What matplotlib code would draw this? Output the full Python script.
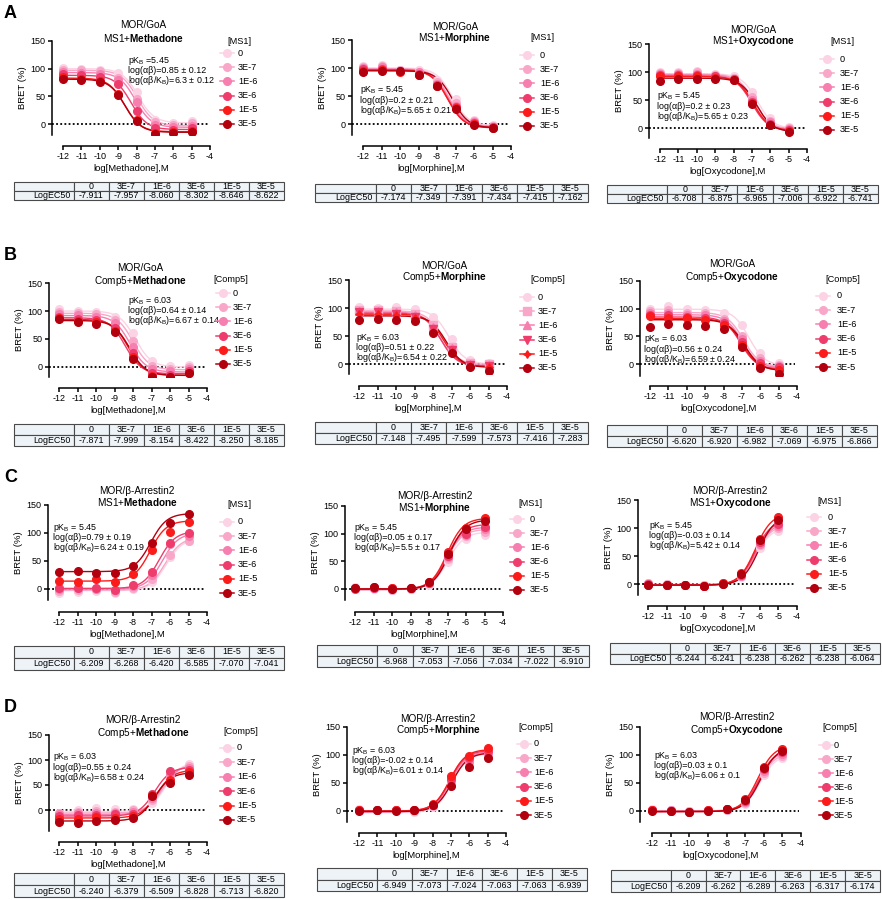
import numpy as np
import matplotlib
matplotlib.use("Agg")
import matplotlib.pyplot as plt
from matplotlib.lines import Line2D
from matplotlib.patches import Rectangle

plt.rcParams['font.family'] = ['Liberation Sans', 'DejaVu Sans']
plt.rcParams['mathtext.fontset'] = 'custom'
plt.rcParams['mathtext.rm'] = 'Liberation Sans'
plt.rcParams['mathtext.bf'] = 'Liberation Sans:bold'
plt.rcParams['mathtext.it'] = 'Liberation Sans:italic'
plt.rcParams['axes.unicode_minus'] = False

# ---------------- data ----------------
log_conc = [-12, -11, -10, -9, -8, -7, -6, -5]
x_ticks = [-12, -11, -10, -9, -8, -7, -6, -5, -4]
y_ticks = [0, 50, 100, 150]
mod_conc = ['0', '3E-7', '1E-6', '3E-6', '1E-5', '3E-5']
series_colors = ['#fcd3e4', '#f9a7c8', '#f67fb0', '#ee3d6c', '#fc1b1b', '#b3000f']

# Row A: MOR/GoA, MS1
A1_points = [[102, 100, 98, 92, 58, 8, 2, 6],
             [98, 97, 95, 84, 45, 3, -2, 2],
             [94, 92, 90, 80, 40, -2, -5, -3],
             [90, 88, 85, 72, 24, -8, -10, -8],
             [85, 82, 78, 55, 8, -16, -14, -12],
             [82, 80, 76, 52, 5, -18, -16, -14]]
A1_top = [100, 97, 93, 88, 83, 81]
A1_bottom = [2, -3, -6, -10, -14, -15]
A1_logec50 = [-7.911, -7.957, -8.060, -8.302, -8.646, -8.622]

A2_points = [[104, 106, 97, 96, 78, 44, 8, -1],
             [102, 104, 96, 93, 75, 38, 5, -3],
             [100, 102, 95, 92, 72, 33, 3, -5],
             [98, 99, 94, 90, 70, 30, 1, -6],
             [95, 96, 93, 88, 68, 28, 0, -8],
             [92, 95, 94, 87, 67, 27, -1, -8]]
A2_top = [100, 99, 98, 97, 96, 95]
A2_bottom = [-3, -4, -5, -6, -7, -7]
A2_logec50 = [-7.174, -7.349, -7.391, -7.434, -7.415, -7.162]

A3_points = [[100, 100, 102, 97, 92, 64, 18, 2],
             [98, 98, 100, 95, 90, 55, 12, 0],
             [96, 96, 97, 93, 88, 50, 10, -2],
             [95, 94, 95, 92, 87, 47, 8, -3],
             [92, 92, 92, 90, 86, 44, 6, -5],
             [84, 88, 87, 88, 85, 42, 5, -8]]
A3_top = [97, 96, 95, 93, 92, 89]
A3_bottom = [-1, -2, -3, -4, -5, -7]
A3_logec50 = [-6.708, -6.875, -6.965, -7.006, -6.922, -6.741]

# Row B: MOR/GoA, Comp5
B1_points = [[104, 100, 98, 90, 60, 10, 2, 4],
             [98, 96, 94, 84, 46, 2, -4, 0],
             [94, 92, 90, 78, 36, -3, -8, -4],
             [90, 86, 84, 70, 25, -10, -14, -8],
             [88, 82, 80, 65, 18, -16, -18, -10],
             [86, 80, 76, 62, 14, -18, -18, -10]]
B1_top = [100, 96, 92, 88, 85, 83]
B1_bottom = [0, -5, -9, -12, -15, -15]
B1_logec50 = [-7.871, -7.999, -8.154, -8.422, -8.250, -8.185]

B2_points = [[101, 100, 101, 98, 84, 45, 8, 2],
             [97, 96, 95, 90, 70, 30, 2, 0],
             [95, 94, 92, 87, 66, 28, 0, -2],
             [92, 92, 90, 84, 62, 25, -2, -4],
             [90, 89, 88, 82, 58, 22, -4, -6],
             [79, 80, 79, 77, 55, 20, -5, -12]]
B2_top = [98, 95, 93, 91, 89, 86]
B2_bottom = [0, -1, -3, -4, -5, -6]
B2_logec50 = [-7.148, -7.495, -7.599, -7.573, -7.416, -7.283]

B3_points = [[100, 105, 100, 97, 93, 70, 20, 2],
             [96, 97, 93, 92, 82, 50, 10, -2],
             [92, 92, 88, 88, 78, 45, 6, -4],
             [88, 88, 85, 84, 74, 40, 2, -6],
             [86, 84, 83, 80, 70, 35, -4, -10],
             [66, 73, 70, 69, 63, 30, -8, -18]]
B3_top = [99, 93, 89, 85, 82, 80]
B3_bottom = [-3, -5, -7, -9, -11, -12]
B3_logec50 = [-6.620, -6.920, -6.982, -7.069, -6.975, -6.866]

# Row C: MOR/beta-Arrestin2, MS1
C1_points = [[-8, -5, -3, -8, 0, 12, 57, 85],
             [-3, -2, 0, -5, 2, 18, 60, 85],
             [0, 1, 0, -2, 5, 25, 80, 95],
             [1, 2, 1, -1, 7, 30, 82, 100],
             [15, 12, 17, 13, 27, 70, 102, 120],
             [30, 32, 28, 29, 41, 83, 118, 134]]
C1_top = [90, 92, 100, 103, 122, 135]
C1_bottom = [-3, -2, 0, 1, 14, 31]
C1_logec50 = [-6.209, -6.268, -6.420, -6.585, -7.070, -7.041]

C2_points = [[3, 0, -2, 0, 8, 48, 90, 98],
             [2, 1, -1, 0, 10, 55, 95, 103],
             [1, 2, 0, 1, 10, 58, 97, 108],
             [0, 2, 1, 1, 11, 60, 100, 112],
             [1, 3, 1, 2, 13, 66, 110, 128],
             [2, 3, 0, 1, 12, 63, 108, 122]]
C2_top = [103, 108, 112, 117, 128, 125]
C2_bottom = [0, 0, -1, -1, 0, 0]
C2_logec50 = [-6.968, -7.053, -7.056, -7.034, -7.022, -6.910]

C3_points = [[2, 0, -1, -2, 1, 12, 65, 95],
             [1, 0, -1, -2, 1, 14, 70, 100],
             [0, -1, -2, -3, 0, 15, 72, 104],
             [0, -1, -2, -3, 0, 16, 75, 108],
             [-1, -1, -2, -3, 1, 19, 80, 120],
             [-1, -2, -2, -3, 0, 18, 78, 115]]
C3_top = [101, 106, 110, 114, 126, 122]
C3_bottom = [-1, -1, -2, -2, -2, -2]
C3_logec50 = [-6.244, -6.241, -6.238, -6.262, -6.238, -6.064]

# Row D: MOR/beta-Arrestin2, Comp5
D1_points = [[-5, 0, 4, 2, 3, 15, 65, 93],
             [-6, -3, -2, -3, 0, 20, 68, 88],
             [-8, -6, -5, -5, -3, 25, 72, 85],
             [-12, -10, -10, -8, -8, 32, 78, 80],
             [-18, -18, -14, -15, -12, 30, 60, 76],
             [-23, -25, -22, -20, -15, 28, 55, 70]]
D1_top = [97, 92, 89, 86, 80, 75]
D1_bottom = [-3, -6, -9, -12, -16, -22]
D1_logec50 = [-6.240, -6.379, -6.509, -6.828, -6.713, -6.820]

D2_points = [[3, 1, 0, -1, 8, 45, 85, 98],
             [2, 1, 1, 0, 9, 50, 88, 100],
             [1, 2, 1, 1, 10, 55, 90, 104],
             [1, 2, 1, 1, 11, 58, 95, 108],
             [1, 2, 2, 2, 12, 62, 98, 112],
             [0, 1, 0, 1, 10, 44, 78, 95]]
D2_top = [103, 104, 106, 108, 110, 104]
D2_bottom = [-3, -2, -1, 0, 0, -1]
D2_logec50 = [-6.949, -7.073, -7.024, -7.063, -7.063, -6.939]

D3_points = [[3, 1, 0, 0, 2, 12, 65, 95],
             [2, 1, 0, 0, 2, 14, 68, 98],
             [1, 1, -1, 0, 3, 16, 72, 102],
             [1, 0, -1, 1, 3, 18, 75, 105],
             [1, 0, -1, 1, 4, 22, 78, 110],
             [0, 0, -1, 0, 3, 20, 76, 108]]
D3_top = [101, 104, 108, 111, 117, 114]
D3_bottom = [0, 0, -1, -1, -1, -1]
D3_logec50 = [-6.209, -6.262, -6.289, -6.263, -6.317, -6.174]

# ---------------- figure ----------------
W, H = 882, 900
fig = plt.figure(figsize=(W / 100, H / 100), dpi=100)

FS_TICK = 6.5
FS_LAB = 6.8
FS_TITLE = 7.2
FS_ANN = 6.4
FS_LEG = 6.6
FS_TAB = 6.4


def fx(px):
    return px / W


def fy(py):
    return 1 - py / H


def draw_panel(geom, pts, top, bottom, logec, inhib, drug, assay, modname,
               title_pos, ann, ann_lines, leg, table, markers=None):
    ysp, x12, x4, y150, y0, ybot, xax = geom
    ax = fig.add_axes([fx(ysp), fy(ybot), fx(x4) - fx(ysp), fy(y150) - fy(ybot)])
    pxu = (x4 - x12) / 8.0
    xl = -12 - (x12 - ysp) / pxu
    pyu = (y0 - y150) / 150.0
    yb = -(ybot - y0) / pyu
    ax.set_xlim(xl, -4)
    ax.set_ylim(yb, 150)
    ax.patch.set_alpha(0)
    for s in ['top', 'right']:
        ax.spines[s].set_visible(False)
    ax.spines['bottom'].set_position(('outward', (xax - ybot) * 0.72))
    ax.spines['bottom'].set_bounds(-12, -4)
    for s in ['left', 'bottom']:
        ax.spines[s].set_linewidth(1.1)
    ax.set_xticks(x_ticks)
    ax.set_yticks(y_ticks)
    ax.tick_params(labelsize=FS_TICK, length=3, width=1.1, pad=1.5)
    ax.set_xlabel('log[%s],M' % drug, fontsize=FS_LAB, labelpad=2)
    ax.set_ylabel('BRET (%)', fontsize=FS_LAB, labelpad=3)
    ax.plot([xl, -4.1], [0, 0], color='black', lw=1.3,
            linestyle=(0, (1.0, 1.3)), zorder=1)
    xs = np.linspace(-12, -5, 200)
    if markers is None:
        markers = ['o'] * 6
    for i in range(6):
        if inhib:
            yc = bottom[i] + (top[i] - bottom[i]) / (1 + 10 ** (xs - logec[i]))
        else:
            yc = bottom[i] + (top[i] - bottom[i]) / (1 + 10 ** (logec[i] - xs))
        ax.plot(xs, yc, color=series_colors[i], lw=1.0, zorder=2 + i)
        ax.plot(log_conc, pts[i], linestyle='none', marker=markers[i], ms=5.5,
                color=series_colors[i], zorder=10 + i)
    # annotation
    ax_x, ann_y = ann
    for k, line in enumerate(ann_lines):
        ax.text(ax_x, ann_y - k * 10.0 / pyu, line, fontsize=FS_ANN, ha='left',
                va='center', zorder=20)
    # title
    cx, t1, t2 = title_pos
    fig.text(fx(cx), fy(t1), assay, fontsize=FS_TITLE, ha='center', va='center')
    fig.text(fx(cx), fy(t2), '%s+$\\mathbf{%s}$' % (modname, drug), fontsize=FS_TITLE,
             ha='center', va='center')
    # legend
    tx, ty, mx, lx, e0, e5 = leg
    fig.text(fx(tx), fy(ty), '[%s]' % modname, fontsize=FS_LEG, ha='left', va='center')
    for i in range(6):
        yy = e0 + i * (e5 - e0) / 5.0
        fig.add_artist(Line2D([fx(mx - 7), fx(mx + 7)], [fy(yy), fy(yy)],
                              color=series_colors[i], lw=1.1, transform=fig.transFigure))
        fig.add_artist(Line2D([fx(mx)], [fy(yy)], marker=markers[i], ms=5.5,
                              color=series_colors[i], linestyle='none',
                              transform=fig.transFigure))
        fig.text(fx(lx), fy(yy), mod_conc[i], fontsize=FS_LEG, ha='left', va='center')
    # table
    tl, tr, tt, tbt = table
    tax = fig.add_axes([fx(tl), fy(tbt), fx(tr) - fx(tl), fy(tt) - fy(tbt)])
    tax.set_xlim(0, 1)
    tax.set_ylim(0, 1)
    tax.axis('off')
    c0 = 0.222
    cw = (1 - c0) / 6
    edges = [0] + [c0 + j * cw for j in range(7)]
    header = [''] + mod_conc
    row = ['LogEC50'] + ['%.3f' % v for v in logec]
    for j in range(7):
        for r, (yl, txts) in enumerate([(0.5, header), (0.0, row)]):
            tax.add_patch(Rectangle((edges[j], yl), edges[j + 1] - edges[j], 0.5,
                                    facecolor='#eef3f8', edgecolor='#4a4a4a',
                                    lw=0.8, clip_on=False))
            if j == 0:
                tax.text(edges[1] - 0.012, yl + 0.25, txts[j], fontsize=FS_TAB,
                         ha='right', va='center')
            else:
                tax.text((edges[j] + edges[j + 1]) / 2, yl + 0.25, txts[j],
                         fontsize=FS_TAB, ha='center', va='center')
    return ax


KB = 'K$_\\mathrm{B}$'
GOA = 'MOR/GoA'
ARR = 'MOR/β-Arrestin2'

draw_panel((52, 63, 210, 41, 124, 135, 146), A1_points, A1_top, A1_bottom, A1_logec50,
           True, 'Methadone', GOA, 'MS1', (143, 25, 38), (-8.46, 114),
           ['p' + KB + ' =5.45', 'log(αβ)=0.85 ± 0.12', 'log(αβ/' + KB + ')=6.3 ± 0.12'],
           (227, 42, 227, 238, 53, 124), (14, 284, 182, 200))
draw_panel((352, 363, 511, 40, 124, 135, 146), A2_points, A2_top, A2_bottom, A2_logec50,
           True, 'Morphine', GOA, 'MS1', (455, 27, 38), (-12.15, 60),
           ['p' + KB + ' = 5.45', 'log(αβ)=0.2 ± 0.21', 'log(αβ/' + KB + ')=5.65 ± 0.21'],
           (530, 37, 527, 540, 55, 126), (315, 588, 184, 202))
draw_panel((649, 660, 807, 44, 128, 138, 149), A3_points, A3_top, A3_bottom, A3_logec50,
           True, 'Oxycodone', GOA, 'MS1', (753, 30, 41), (-12.15, 57),
           ['p' + KB + ' = 5.45', 'log(αβ)=0.2 ± 0.23', 'log(αβ/' + KB + ')=5.65 ± 0.23'],
           (830, 42, 827, 840, 59, 130), (607, 878, 185, 203))

draw_panel((49, 59, 207, 283, 367, 377, 388), B1_points, B1_top, B1_bottom, B1_logec50,
           True, 'Methadone', GOA, 'Comp5', (140, 268, 281), (-8.27, 118),
           ['p' + KB + ' = 6.03', 'log(αβ)=0.64 ± 0.14', 'log(αβ/' + KB + ')=6.67 ± 0.14'],
           (213, 280, 223, 233, 293, 364), (14, 284, 424, 446))
draw_panel((349, 359, 507, 280, 364, 374, 386), B2_points, B2_top, B2_bottom, B2_logec50,
           True, 'Morphine', GOA, 'Comp5', (444, 266, 277), (-12.16, 47),
           ['p' + KB + ' = 6.03', 'log(αβ)=0.51 ± 0.22', 'log(αβ/' + KB + ')=6.54 ± 0.22'],
           (530, 280, 527, 538, 297, 368), (315, 588, 422, 444),
           markers=['o', 's', '^', 'v', (4, 1, 0), 'o'])
draw_panel((640, 650, 797, 281, 364, 376, 386), B3_points, B3_top, B3_bottom, B3_logec50,
           True, 'Oxycodone', GOA, 'Comp5', (732, 264, 277), (-12.3, 45),
           ['p' + KB + ' = 6.03', 'log(αβ)=0.56 ± 0.24', 'log(αβ/' + KB + ')=6.59 ± 0.24'],
           (825, 280, 823, 837, 296, 367), (607, 877, 425, 447))

draw_panel((48, 59, 207, 505, 589, 600, 612), C1_points, C1_top, C1_bottom, C1_logec50,
           False, 'Methadone', ARR, 'MS1', (137, 491, 502), (-12.3, 109),
           ['p' + KB + ' = 5.45', 'log(αβ)=0.79 ± 0.19', 'log(αβ/' + KB + ')=6.24 ± 0.19'],
           (227, 504, 227, 238, 522, 593), (14, 284, 646, 670))
draw_panel((345, 355, 503, 506, 589, 600, 612), C2_points, C2_top, C2_bottom, C2_logec50,
           False, 'Morphine', ARR, 'MS1', (435, 496, 508), (-12.05, 111),
           ['p' + KB + ' = 5.45', 'log(αβ)=0.05 ± 0.17', 'log(αβ/' + KB + ')=5.5 ± 0.17'],
           (518, 503, 517, 530, 519, 590), (317, 589, 645, 667))
draw_panel((638, 648, 797, 500, 584, 595, 606), C3_points, C3_top, C3_bottom, C3_logec50,
           False, 'Oxycodone', ARR, 'MS1', (730, 491, 503), (-11.95, 104),
           ['p' + KB + ' = 5.45', 'log(αβ)=-0.03 ± 0.14', 'log(αβ/' + KB + ')=5.42 ± 0.14'],
           (817, 501, 814, 828, 517, 588), (610, 880, 643, 664))

draw_panel((49, 59, 207, 735, 810, 831, 842), D1_points, D1_top, D1_bottom, D1_logec50,
           False, 'Methadone', ARR, 'Comp5', (143, 720, 733), (-12.3, 106),
           ['p' + KB + ' = 6.03', 'log(αβ)=0.55 ± 0.24', 'log(αβ/' + KB + ')=6.58 ± 0.24'],
           (223, 731, 227, 237, 748, 820), (14, 284, 873, 897))
draw_panel((347, 359, 506, 727, 811, 822, 833), D2_points, D2_top, D2_bottom, D2_logec50,
           False, 'Morphine', ARR, 'Comp5', (438, 719, 730), (-12.4, 108),
           ['p' + KB + ' = 6.03', 'log(αβ)=-0.02 ± 0.14', 'log(αβ/' + KB + ')=6.01 ± 0.14'],
           (518, 728, 524, 534, 744, 815), (317, 587, 868, 891))
draw_panel((640, 652, 801, 727, 811, 822, 833), D3_points, D3_top, D3_bottom, D3_logec50,
           False, 'Oxycodone', ARR, 'Comp5', (737, 717, 730), (-11.9, 99),
           ['p' + KB + ' = 6.03', 'log(αβ)=0.03 ± 0.1', 'log(αβ/' + KB + ')=6.06 ± 0.1'],
           (822, 728, 826, 834, 745, 815), (611, 880, 870, 892))

for letter, ly in [('A', 13), ('B', 255), ('C', 478), ('D', 708)]:
    fig.text(fx(4), fy(ly), letter, fontsize=13, fontweight='bold', ha='left', va='center')

fig.savefig('out.png', dpi=100)
